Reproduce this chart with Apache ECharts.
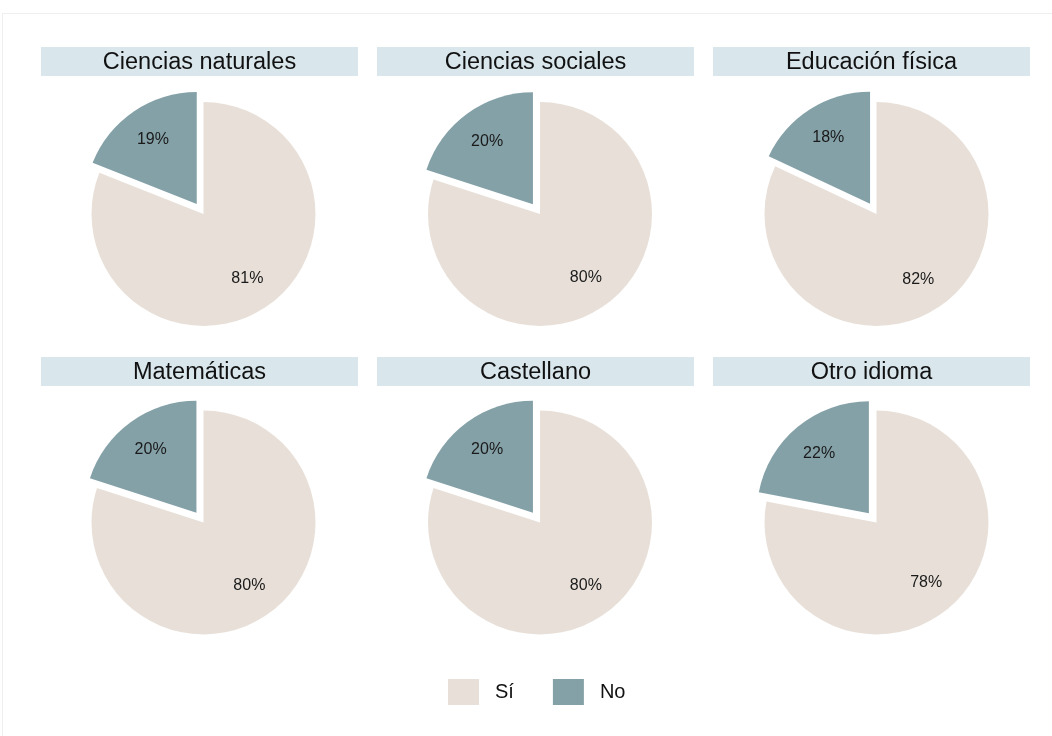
<!DOCTYPE html>
<html><head><meta charset="utf-8">
<script src="https://cdn.jsdelivr.net/npm/echarts@6/dist/echarts.min.js"></script>
<style>html,body{margin:0;padding:0;background:#fff}#c{width:1052px;height:736px}</style>
</head><body><div id="c"></div>
<script>
const subjects = ['Ciencias naturales','Ciencias sociales','Educación física','Matemáticas','Castellano','Otro idioma'];
const siValues = [81, 80, 82, 80, 80, 78];
const noValues = [19, 20, 18, 20, 20, 22];
const categories = ['Sí', 'No'];
const colors = ['#e8e0d8', '#84a1a8'];

const colX = [203.5, 540, 876.5];
const rowY = [214, 522.5];
const stripX = [41, 377, 713];
const stripY = [47, 357];
const stripW = 317, stripH = 29;
const R = 112, offset = 12;
const FONT = '"Liberation Sans", Arial, sans-serif';

const series = [];
const graphic = [{
  type: 'rect', shape: {x: 2.5, y: 13.5, width: 1070, height: 740},
  style: {fill: 'none', stroke: '#efefef', lineWidth: 1}, silent: true
}];
subjects.forEach((s, i) => {
  const c = i % 3, r = Math.floor(i / 3);
  const vals = [siValues[i], noValues[i]];
  graphic.push({
    type: 'group', left: stripX[c], top: stripY[r],
    children: [
      {type: 'rect', shape: {x: 0, y: 0, width: stripW, height: stripH}, style: {fill: '#d9e6ec'}},
      {type: 'text', x: stripW / 2, y: stripH / 2 + 1, style: {text: s, fill: '#111', font: '23.5px ' + FONT, textAlign: 'center', textVerticalAlign: 'middle'}}
    ]
  });
  series.push({
    type: 'pie', center: [colX[c], rowY[r]], radius: [0, R], startAngle: 90, clockwise: true,
    selectedMode: 'multiple', selectedOffset: offset, animation: false, silent: true,
    label: {show: false}, labelLine: {show: false}, emphasis: {disabled: true},
    data: categories.map((n, k) => ({name: n, value: vals[k], selected: k === 1, itemStyle: {color: colors[k]}}))
  });
  series.push({
    type: 'pie', center: [colX[c], rowY[r]], radius: [0, 150], startAngle: 90, clockwise: true,
    selectedMode: 'multiple', selectedOffset: offset, animation: false, silent: true,
    itemStyle: {color: 'rgba(0,0,0,0)'}, emphasis: {disabled: true},
    label: {show: true, position: 'inside', formatter: '{c}%', color: '#1a1a1a', fontSize: 16, fontFamily: FONT},
    labelLine: {show: false},
    data: categories.map((n, k) => ({name: n, value: vals[k], selected: k === 1}))
  });
});

const chart = echarts.init(document.getElementById('c'));
chart.setOption({
  backgroundColor: '#fff',
  animation: false,
  legend: {
    data: categories.map((n, k) => ({name: n, itemStyle: {color: colors[k]}})),
    left: 443, top: 674, icon: 'rect', itemWidth: 31, itemHeight: 26, itemGap: 39,
    selectedMode: false,
    textStyle: {fontSize: 20, color: '#111', fontFamily: FONT, padding: [0, 0, 0, 11]}
  },
  graphic: graphic,
  series: series
});
</script></body></html>
